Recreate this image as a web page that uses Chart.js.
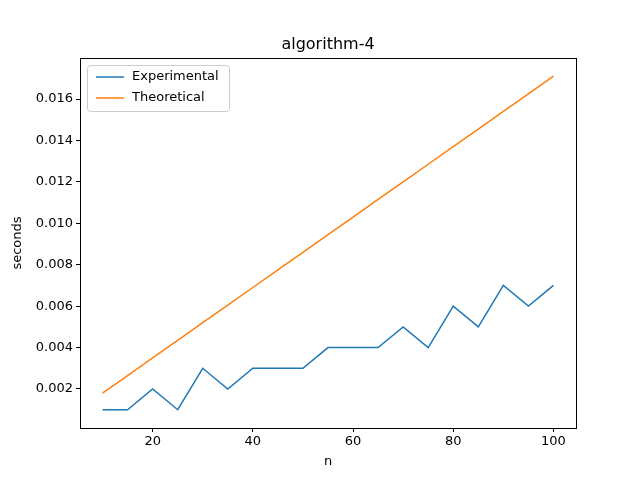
<!DOCTYPE html>
<html><head><script src="https://cdn.jsdelivr.net/npm/chart.js@4"></script>
<style>body{margin:0;background:#fff}</style></head>
<body><canvas id="c" width="640" height="480" style="width:640px;height:480px"></canvas>
<script>
const nValues=[10,15,20,25,30,35,40,45,50,55,60,65,70,75,80,85,90,95,100];
const experimental=[0.001,0.001,0.002,0.001,0.003,0.002,0.003,0.003,0.003,0.004,0.004,0.004,0.005,0.004,0.006,0.005,0.007,0.006,0.007];
const theoretical=[0.0018,0.00265,0.0035,0.00435,0.0052,0.00605,0.0069,0.00775,0.0086,0.00945,0.0103,0.01115,0.012,0.01285,0.0137,0.01455,0.0154,0.01625,0.0171];
const xTicks=[20,40,60,80,100];
const yTicks=[0.002,0.004,0.006,0.008,0.010,0.012,0.014,0.016];
const F='DejaVu Sans';
const frame={id:'frame',afterDraw(ch){const c=ch.ctx,a=ch.chartArea;c.save();c.strokeStyle='#000';c.lineWidth=1;
c.strokeRect(Math.round(a.left)+0.5,Math.round(a.top)+0.5,Math.round(a.right-a.left),Math.round(a.bottom-a.top));
c.fillStyle='#000';c.font='16px '+F;c.textAlign='center';c.textBaseline='alphabetic';c.fillText('algorithm-4',(a.left+a.right)/2,49);
const x=a.left+7,y=a.top+7;c.fillStyle='rgba(255,255,255,0.8)';c.strokeStyle='#ccc';c.beginPath();c.roundRect(x+0.5,y+0.5,142,46,3);c.fill();c.stroke();
const items=[['Experimental','#1f77b4'],['Theoretical','#ff7f0e']];
items.forEach((it,i)=>{const yy=y+12+i*21;c.strokeStyle=it[1];c.lineWidth=1.5;c.beginPath();c.moveTo(x+9,yy);c.lineTo(x+37,yy);c.stroke();
c.fillStyle='#000';c.font='13px '+F;c.textAlign='left';c.textBaseline='middle';c.fillText(it[0],x+45,yy);});
c.restore();}};
new Chart(document.getElementById('c'),{type:'line',
data:{datasets:[
{label:'Experimental',data:nValues.map((n,i)=>({x:n,y:experimental[i]})),borderColor:'#1f77b4',borderWidth:1.5,pointRadius:0,tension:0},
{label:'Theoretical',data:nValues.map((n,i)=>({x:n,y:theoretical[i]})),borderColor:'#ff7f0e',borderWidth:1.5,pointRadius:0,tension:0}]},
options:{responsive:false,animation:false,devicePixelRatio:1,
layout:{padding:{left:6,top:58,right:64,bottom:7}},
plugins:{legend:{display:false},title:{display:false},tooltip:{enabled:false}},
scales:{
x:{type:'linear',min:5.5,max:104.5,afterBuildTicks:s=>{s.ticks=xTicks.map(v=>({value:v}))},afterFit:s=>{s.height=45},
grid:{drawOnChartArea:false,tickLength:4,color:'#000'},border:{display:false},
ticks:{color:'#000',font:{family:F,size:13},padding:2,maxRotation:0},
title:{display:true,text:'n',color:'#000',font:{family:F,size:13},padding:{top:0}}},
y:{min:0.000117,max:0.01798,afterBuildTicks:s=>{s.ticks=yTicks.map(v=>({value:v}))},afterFit:s=>{s.width=74},
grid:{drawOnChartArea:false,tickLength:4,color:'#000'},border:{display:false},
ticks:{color:'#000',font:{family:F,size:13},padding:3,callback:v=>v.toFixed(3)},
title:{display:true,text:'seconds',color:'#000',font:{family:F,size:13},padding:{bottom:2}}}}},
plugins:[frame]});
</script></body></html>
